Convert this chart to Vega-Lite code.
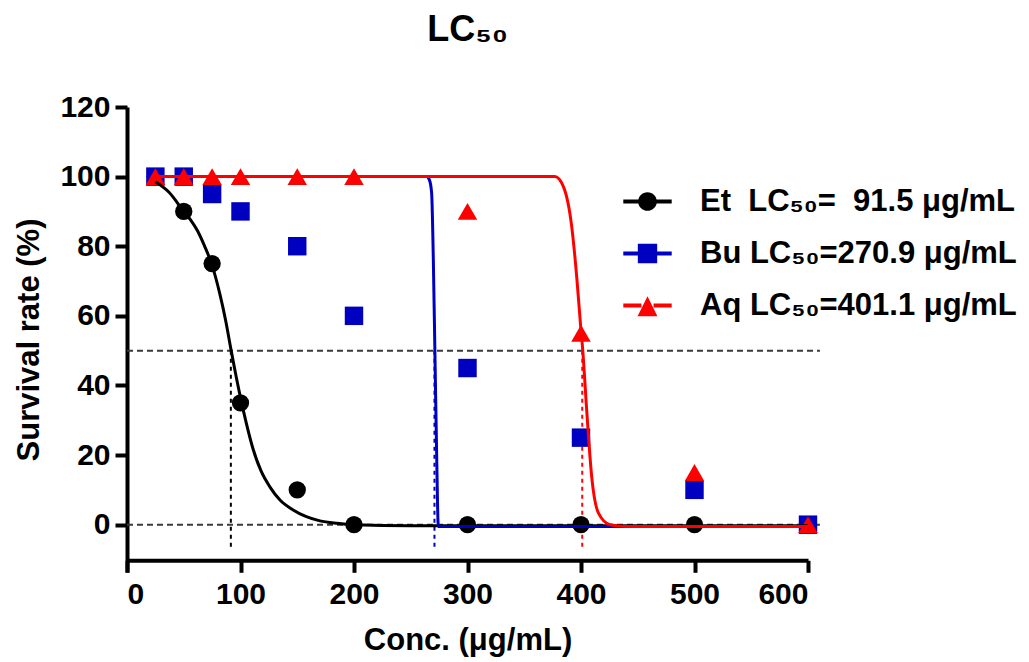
{
  "$schema": "https://vega.github.io/schema/vega-lite/v6.json",
  "autosize": "none",
  "padding": {"left": 127, "top": 107, "right": 221, "bottom": 90},
  "width": 681,
  "height": 465,
  "background": "white",
  "title": {"text": "LC₅₀", "font": "Liberation Sans", "fontSize": 36, "fontWeight": "bold", "color": "black", "anchor": "middle", "baseline": "alphabetic", "offset": 15},
  "config": {
    "view": {"stroke": null},
    "axis": {
      "domainColor": "black", "domainWidth": 4, "tickColor": "black", "tickWidth": 4, "tickSize": 12,
      "labelFont": "Liberation Sans", "labelFontWeight": "bold", "labelFontSize": 30, "labelColor": "black",
      "titleFont": "Liberation Sans", "titleFontWeight": "bold", "titleFontSize": 31, "titleColor": "black",
      "grid": false
    },
    "legend": {
      "labelFont": "Liberation Sans", "labelFontWeight": "bold", "labelFontSize": 31, "labelColor": "black", "labelLimit": 500
    }
  },
  "datasets": {
    "pts": [
      {"series": "Et", "conc": 25, "rate": 100}, {"series": "Et", "conc": 50, "rate": 90}, {"series": "Et", "conc": 75, "rate": 75},
      {"series": "Et", "conc": 100, "rate": 35}, {"series": "Et", "conc": 150, "rate": 10}, {"series": "Et", "conc": 200, "rate": 0},
      {"series": "Et", "conc": 300, "rate": 0}, {"series": "Et", "conc": 400, "rate": 0}, {"series": "Et", "conc": 500, "rate": 0},
      {"series": "Et", "conc": 600, "rate": 0},
      {"series": "Bu", "conc": 25, "rate": 100}, {"series": "Bu", "conc": 50, "rate": 100}, {"series": "Bu", "conc": 75, "rate": 95},
      {"series": "Bu", "conc": 100, "rate": 90}, {"series": "Bu", "conc": 150, "rate": 80}, {"series": "Bu", "conc": 200, "rate": 60},
      {"series": "Bu", "conc": 300, "rate": 45}, {"series": "Bu", "conc": 400, "rate": 25}, {"series": "Bu", "conc": 500, "rate": 10},
      {"series": "Bu", "conc": 600, "rate": 0},
      {"series": "Aq", "conc": 25, "rate": 100}, {"series": "Aq", "conc": 50, "rate": 100}, {"series": "Aq", "conc": 75, "rate": 100},
      {"series": "Aq", "conc": 100, "rate": 100}, {"series": "Aq", "conc": 150, "rate": 100}, {"series": "Aq", "conc": 200, "rate": 100},
      {"series": "Aq", "conc": 300, "rate": 90}, {"series": "Aq", "conc": 400, "rate": 55}, {"series": "Aq", "conc": 500, "rate": 15},
      {"series": "Aq", "conc": 600, "rate": 0}
    ],
    "fit": [
      {"series": "Et", "conc": 25, "rate": 98.5}, {"series": "Et", "conc": 37, "rate": 95.5}, {"series": "Et", "conc": 50, "rate": 90},
      {"series": "Et", "conc": 56, "rate": 87.6}, {"series": "Et", "conc": 62, "rate": 84.5}, {"series": "Et", "conc": 68, "rate": 80.3},
      {"series": "Et", "conc": 75, "rate": 74.5}, {"series": "Et", "conc": 82, "rate": 66}, {"series": "Et", "conc": 87, "rate": 58.5},
      {"series": "Et", "conc": 91.5, "rate": 50.5}, {"series": "Et", "conc": 95, "rate": 44.5}, {"series": "Et", "conc": 100, "rate": 36.5},
      {"series": "Et", "conc": 105, "rate": 29.3}, {"series": "Et", "conc": 111, "rate": 21.8}, {"series": "Et", "conc": 118, "rate": 15.5},
      {"series": "Et", "conc": 126, "rate": 10.8}, {"series": "Et", "conc": 135, "rate": 7}, {"series": "Et", "conc": 146, "rate": 4.3},
      {"series": "Et", "conc": 158, "rate": 2.3}, {"series": "Et", "conc": 170, "rate": 1.1}, {"series": "Et", "conc": 185, "rate": 0.4},
      {"series": "Et", "conc": 200, "rate": 0}, {"series": "Et", "conc": 250, "rate": -0.3}, {"series": "Et", "conc": 600, "rate": -0.3},
      {"series": "Bu", "conc": 25, "rate": 100}, {"series": "Bu", "conc": 264, "rate": 100}, {"series": "Bu", "conc": 266.5, "rate": 99},
      {"series": "Bu", "conc": 268.4, "rate": 95.3}, {"series": "Bu", "conc": 269.9, "rate": 76}, {"series": "Bu", "conc": 271.4, "rate": 47.4},
      {"series": "Bu", "conc": 272.9, "rate": 18.7}, {"series": "Bu", "conc": 274.3, "rate": -0.5}, {"series": "Bu", "conc": 600, "rate": -0.5},
      {"series": "Aq", "conc": 25, "rate": 100}, {"series": "Aq", "conc": 377, "rate": 100}, {"series": "Aq", "conc": 384.4, "rate": 97.2},
      {"series": "Aq", "conc": 391.8, "rate": 85.7}, {"series": "Aq", "conc": 396.2, "rate": 71.3}, {"series": "Aq", "conc": 399.7, "rate": 57},
      {"series": "Aq", "conc": 401.5, "rate": 50.3}, {"series": "Aq", "conc": 405, "rate": 33}, {"series": "Aq", "conc": 409.4, "rate": 13.9},
      {"series": "Aq", "conc": 415.3, "rate": 3.4}, {"series": "Aq", "conc": 425.6, "rate": 0}, {"series": "Aq", "conc": 440, "rate": -0.5},
      {"series": "Aq", "conc": 600, "rate": -0.5}
    ],
    "hrefs": [
      {"conc": 0, "conc2": 610.5, "rate": 50},
      {"conc": 0, "conc2": 610.5, "rate": 0}
    ],
    "vrefs": [
      {"series": "Et", "conc": 91.5, "rate": 50, "rate2": -7.5},
      {"series": "Bu", "conc": 270.9, "rate": 50, "rate2": -7.5},
      {"series": "Aq", "conc": 401.1, "rate": 50, "rate2": -7.5}
    ]
  },
  "encoding": {
    "x": {"field": "conc", "type": "quantitative",
      "scale": {"domain": [0, 600], "nice": false, "zero": false},
      "axis": {"title": "Conc. (μg/mL)", "values": [0, 100, 200, 300, 400, 500, 600], "offset": -11.7, "labelPadding": 7, "titlePadding": 16}},
    "y": {"field": "rate", "type": "quantitative",
      "scale": {"domain": [-13.6, 120], "nice": false, "zero": false},
      "axis": {"title": "Survival rate (%)", "values": [0, 20, 40, 60, 80, 100, 120], "labelPadding": 5, "titlePadding": 14}},
    "color": {"field": "series", "type": "nominal",
      "scale": {"domain": ["Et", "Bu", "Aq"], "range": ["#000000", "#0000C0", "#FF0000"]}}
  },
  "resolve": {
    "scale": {"shape": "independent"},
    "legend": {"color": "independent", "size": "independent", "shape": "independent"}
  },
  "layer": [
    {
      "data": {"name": "hrefs"},
      "mark": {"type": "rule", "color": "#3a3a3a", "strokeWidth": 2, "strokeDash": [6, 4], "clip": false},
      "encoding": {
        "x2": {"field": "conc2"},
        "color": {"value": "#3a3a3a"}
      }
    },
    {
      "data": {"name": "vrefs"},
      "mark": {"type": "rule", "strokeWidth": 2, "strokeDash": [4, 4]},
      "encoding": {
        "y2": {"field": "rate2"},
        "color": {"field": "series", "type": "nominal", "legend": null}
      }
    },
    {
      "data": {"name": "pts"},
      "mark": {"type": "point", "filled": true, "opacity": 1},
      "encoding": {
        "color": {"field": "series", "type": "nominal", "legend": null},
        "shape": {"field": "series", "type": "nominal", "legend": null, "scale": {"domain": ["Et", "Bu", "Aq"], "range": ["circle", "square", "triangle-up"]}},
        "size": {"field": "series", "type": "nominal", "legend": null, "scale": {"domain": ["Et", "Bu", "Aq"], "range": [300, 380, 420]}}
      }
    },
    {
      "data": {"name": "fit"},
      "mark": {"type": "line", "strokeWidth": 3, "interpolate": "monotone"},
      "encoding": {
        "color": {"field": "series", "type": "nominal", "legend": null},
        "detail": {"field": "series"}
      }
    },
    {
      "data": {"name": "pts"},
      "transform": [{"filter": "datum.conc < 0"}],
      "mark": {"type": "point", "filled": true, "opacity": 1},
      "encoding": {
        "color": {"field": "series", "type": "nominal",
          "legend": {
            "orient": "none", "legendX": 496, "legendY": 70, "title": null, "padding": 0,
            "symbolSize": 2343, "labelOffset": 28, "rowPadding": 12, "symbolStrokeWidth": 0, "symbolOpacity": 1,
            "labelExpr": "datum.label == 'Et' ? 'Et\u00a0\u00a0LC₅₀=\u00a0\u00a091.5 μg/mL' : datum.label == 'Bu' ? 'Bu LC₅₀=270.9 μg/mL' : 'Aq LC₅₀=401.1 μg/mL'"
          }
        },
        "shape": {"field": "series", "type": "nominal",
          "scale": {"domain": ["Et", "Bu", "Aq"], "range": [
            "M-1,-0.083H-0.3V0.083H-1Z M0.3,-0.083H1V0.083H0.3Z M-0.386,0A0.386,0.386 0 1,1 0.386,0A0.386,0.386 0 1,1 -0.386,0Z",
            "M-1,-0.083H-0.38V0.083H-1Z M0.38,-0.083H1V0.083H0.38Z M-0.4,-0.4H0.4V0.4H-0.4Z",
            "M-1,-0.083H-0.25V0.083H-1Z M0.25,-0.083H1V0.083H0.25Z M0,-0.38L0.41,0.44H-0.41Z"
          ]},
          "legend": {
            "orient": "none", "legendX": 496, "legendY": 70, "title": null, "padding": 0,
            "symbolSize": 2343, "labelOffset": 28, "rowPadding": 12, "symbolStrokeWidth": 0, "symbolOpacity": 1,
            "labelExpr": "datum.label == 'Et' ? 'Et\u00a0\u00a0LC₅₀=\u00a0\u00a091.5 μg/mL' : datum.label == 'Bu' ? 'Bu LC₅₀=270.9 μg/mL' : 'Aq LC₅₀=401.1 μg/mL'"
          }
        }
      }
    }
  ]
}
